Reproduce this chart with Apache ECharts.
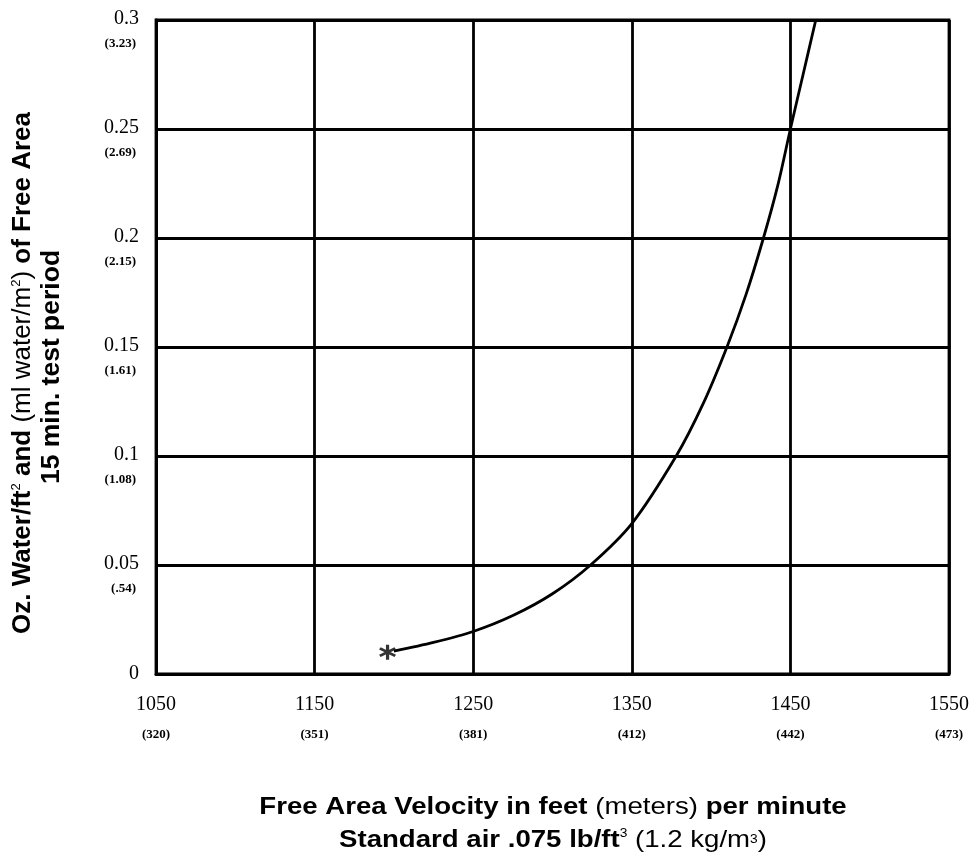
<!DOCTYPE html>
<html><head><meta charset="utf-8">
<script src="https://cdn.jsdelivr.net/npm/echarts/dist/echarts.min.js"></script>
<style>html,body{margin:0;padding:0;background:#fff}#c{width:969px;height:855px}</style>
</head><body><div id="c"></div>
<script>
// Curve: free area velocity (ft/min) vs oz water / ft^2
const velocity = [1200, 1225, 1250, 1275, 1300, 1324, 1350, 1378, 1395, 1410, 1422, 1433, 1442, 1450, 1458, 1466];
const water    = [0.0105, 0.0145, 0.0195, 0.0268, 0.0368, 0.050, 0.069, 0.100, 0.124, 0.150, 0.174, 0.200, 0.224, 0.250, 0.275, 0.300];
// Start marker (asterisk)
const startPoint = [1196, 0.0100];
// Tick labels
const xTickLabels = ['1050', '1150', '1250', '1350', '1450', '1550'];
const xMetricLabels = ['(320)', '(351)', '(381)', '(412)', '(442)', '(473)'];
const yTickLabels = ['0', '0.05', '0.1', '0.15', '0.2', '0.25', '0.3'];
const yMetricLabels = ['', '(.54)', '(1.08)', '(1.61)', '(2.15)', '(2.69)', '(3.23)'];
const xStart = 1050, xStep = 100, xEnd = 1550;
const yStep = 0.05, yMax = 0.3;

const serif = '"Liberation Serif", "Times New Roman", serif';
const sans = '"Liberation Sans", Arial, sans-serif';
const asterisk = 'path://M41,0 L59,0 L59,100 L41,100 Z M2.2,32.79 L11.2,17.21 L97.8,67.21 L88.8,82.79 Z M88.8,17.21 L97.8,32.79 L11.2,82.79 L2.2,67.21 Z';
const LW = 2.8;

const chart = echarts.init(document.getElementById('c'), null, {renderer: 'canvas'});
const lineData = velocity.map((v, i) => [v - xStart, water[i]]);

chart.setOption({
  animation: false,
  backgroundColor: '#fff',
  grid: {left: 156, right: 20, top: 20, bottom: 181, containLabel: false, outerBoundsMode: 'none',
         show: true, borderColor: '#000', borderWidth: LW, backgroundColor: 'transparent'},
  xAxis: {
    type: 'value', min: 0, max: xEnd - xStart, interval: xStep,
    axisLine: {show: true, lineStyle: {color: '#000', width: LW}},
    axisTick: {show: false},
    splitLine: {show: true, lineStyle: {color: '#000', width: LW}},
    axisLabel: {
      margin: 16,
      formatter: v => {
        const i = Math.round(v / xStep);
        return '{a|' + xTickLabels[i] + '}\n{b|' + xMetricLabels[i] + '}';
      },
      rich: {
        a: {fontFamily: serif, fontSize: 20, color: '#000', lineHeight: 30},
        b: {fontFamily: serif, fontSize: 13, fontWeight: 'bold', color: '#000', lineHeight: 30}
      }
    }
  },
  yAxis: {
    type: 'value', min: 0, max: yMax, interval: yStep,
    axisLine: {show: true, lineStyle: {color: '#000', width: LW}},
    axisTick: {show: false},
    splitLine: {show: true, lineStyle: {color: '#000', width: LW}},
    axisLabel: {
      margin: 17,
      formatter: v => {
        const i = Math.round(v / yStep);
        if (!yMetricLabels[i]) return '{a|' + yTickLabels[i] + '}';
        return '{s| }\n{a|' + yTickLabels[i] + '}\n{b|' + yMetricLabels[i] + '}';
      },
      rich: {
        s: {fontFamily: serif, fontSize: 10, lineHeight: 24},
        a: {fontFamily: serif, fontSize: 20, color: '#000', lineHeight: 24},
        b: {fontFamily: serif, fontSize: 13, fontWeight: 'bold', color: '#000', lineHeight: 26, padding: [0, 3, 0, 0]}
      }
    }
  },
  series: [
    {
      type: 'line', data: lineData, smooth: 0.3, showSymbol: false,
      lineStyle: {color: '#000', width: LW}, z: 5
    },
    {
      type: 'scatter', data: [[startPoint[0] - xStart, startPoint[1]]],
      symbol: asterisk, symbolSize: [17, 15], itemStyle: {color: '#000'}, z: 6
    }
  ],
  graphic: [
    {
      type: 'text', x: 23, y: 373, rotation: Math.PI / 2,
      style: {
        text: '{b|Oz. Water/ft}{s|2}{b| and }{r|(ml water/m}{s|2}{r|)}{b| of Free Area}',
        align: 'center', verticalAlign: 'middle',
        rich: {
          b: {fontFamily: sans, fontSize: 26, fontWeight: 'bold', fill: '#000'},
          r: {fontFamily: sans, fontSize: 26, fill: '#000'},
          s: {fontFamily: sans, fontSize: 13, fill: '#000', verticalAlign: 'top'}
        }
      }
    },
    {
      type: 'text', x: 52, y: 367, rotation: Math.PI / 2,
      style: {
        text: '15 min. test period', align: 'center', verticalAlign: 'middle',
        font: 'bold 26.5px ' + sans, fill: '#000'
      }
    },
    {
      type: 'text', x: 553, y: 807, scaleX: 1.15,
      style: {
        text: '{b|Free Area Velocity in feet }{r|(meters) }{b|per minute}',
        align: 'center', verticalAlign: 'middle',
        rich: {
          b: {fontFamily: sans, fontSize: 24, fontWeight: 'bold', fill: '#000'},
          r: {fontFamily: sans, fontSize: 24, fill: '#000'}
        }
      }
    },
    {
      type: 'text', x: 553, y: 840, scaleX: 1.15,
      style: {
        text: '{b|Standard air .075 lb/ft}{s|3}{r| (1.2 kg/m}{m|3}{r|)}',
        align: 'center', verticalAlign: 'middle',
        rich: {
          b: {fontFamily: sans, fontSize: 24, fontWeight: 'bold', fill: '#000'},
          r: {fontFamily: sans, fontSize: 24, fill: '#000'},
          s: {fontFamily: sans, fontSize: 12, fill: '#000', verticalAlign: 'top'},
          m: {fontFamily: sans, fontSize: 12, fill: '#000', verticalAlign: 'middle'}
        }
      }
    }
  ]
});
</script>
</body></html>
